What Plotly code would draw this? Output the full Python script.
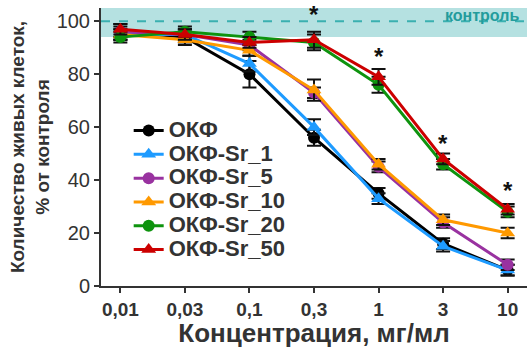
import plotly.graph_objects as go

categories = ["0,01", "0,03", "0,1", "0,3", "1", "3", "10"]

series_names = ["ОКФ", "ОКФ-Sr_1", "ОКФ-Sr_5", "ОКФ-Sr_10", "ОКФ-Sr_20", "ОКФ-Sr_50"]
okf = [96, 94, 80, 56, 35, 16, 6]
sr1 = [95, 95, 84, 60, 33, 15, 6]
sr5 = [96, 95, 91, 73, 45, 24, 8]
sr10 = [95, 93, 89, 74, 46, 25, 20]
sr20 = [94, 96, 94, 92, 76, 46, 28]
sr50 = [97, 95, 92, 93, 79, 48, 29]

okf_err = [3, 2, 5, 3, 2, 2, 2]
sr1_err = [2, 2, 3, 3, 2, 2, 2]
sr5_err = [2, 2, 2, 2, 2, 2, 2]
sr10_err = [2, 2, 2, 4, 2, 2, 2]
sr20_err = [2, 2, 2, 3, 3, 2, 2]
sr50_err = [2, 2, 2, 3, 3, 2, 2]

star_cats = ["0,3", "1", "3", "10"]
star_vals = [102.5, 86.5, 54, 36]

control_value = 100
control_band = [94, 105]

values = [okf, sr1, sr5, sr10, sr20, sr50]
errors = [okf_err, sr1_err, sr5_err, sr10_err, sr20_err, sr50_err]
colors = ["#000000", "#1E9BFF", "#9932A0", "#FF9900", "#0E930E", "#CC0000"]
symbols = ["circle", "triangle-up", "circle", "triangle-up", "circle", "triangle-up"]

font_family = "Arial, Liberation Sans, sans-serif"
txt = "#333333"

fig = go.Figure()

for name, v, e, c, s in zip(series_names, values, errors, colors, symbols):
    fig.add_trace(go.Scatter(
        x=categories, y=v,
        name='<span style="font-size:22px"><b>' + name + '</b></span>',
        mode="lines+markers",
        line=dict(color=c, width=3),
        marker=dict(symbol=s, size=13 if "triangle" in s else 12, color=c),
        error_y=dict(type="data", array=e, visible=True, color="#111111",
                     thickness=2, width=7),
    ))

fig.add_shape(type="rect", xref="paper", yref="y", x0=0, x1=1,
              y0=control_band[0], y1=control_band[1],
              fillcolor="#B5E1E1", line=dict(width=0), layer="below")
fig.add_shape(type="line", xref="paper", yref="y", x0=0, x1=1,
              y0=control_value, y1=control_value,
              line=dict(color="#3AB0B0", width=2, dash="dash"), layer="below")

fig.add_annotation(x=1, xref="paper", xanchor="right", xshift=-6, y=102.3, yref="y",
                   text="<b>контроль</b>", showarrow=False,
                   font=dict(size=16, color="#239C9C"))

for xc, yv in zip(star_cats, star_vals):
    fig.add_annotation(x=categories.index(xc), y=yv, text="<b>*</b>", showarrow=False,
                       font=dict(size=24, color="#111111"))

fig.update_layout(
    width=527, height=348,
    margin=dict(l=101, r=0, t=8, b=62),
    paper_bgcolor="white", plot_bgcolor="white",
    font=dict(family=font_family, color=txt),
    showlegend=True,
    legend=dict(x=0.065, y=0.62, xanchor="left", yanchor="top",
                font=dict(size=16, color=txt, family=font_family),
                bgcolor="rgba(0,0,0,0)", tracegroupgap=0, itemwidth=30),
    xaxis=dict(
        type="category", categoryorder="array", categoryarray=categories,
        range=[-0.3, 6.3],
        showline=True, linecolor=txt, linewidth=2,
        ticks="outside", ticklen=5, tickwidth=2, tickcolor=txt,
        tickfont=dict(size=19, color=txt),
        tickprefix="<b>", ticksuffix="</b>",
        showgrid=False, zeroline=False,
        title=dict(text="<b>Концентрация, мг/мл</b>", font=dict(size=26, color=txt), standoff=4),
    ),
    yaxis=dict(
        range=[0, 105],
        tickvals=[0, 20, 40, 60, 80, 100],
        showline=True, linecolor=txt, linewidth=2,
        ticks="outside", ticklen=5, tickwidth=2, tickcolor=txt,
        tickfont=dict(size=20, color=txt),
        tickprefix="<b>", ticksuffix="</b>",
        showgrid=False, zeroline=False,
        title=dict(text="<b>Количество живых клеток,<br>% от контроля</b>",
                   font=dict(size=19, color=txt), standoff=2),
    ),
)

fig.write_html("out.html", config={"displayModeBar": False},
               post_script="document.body.style.margin='0';document.body.style.overflow='hidden';")
